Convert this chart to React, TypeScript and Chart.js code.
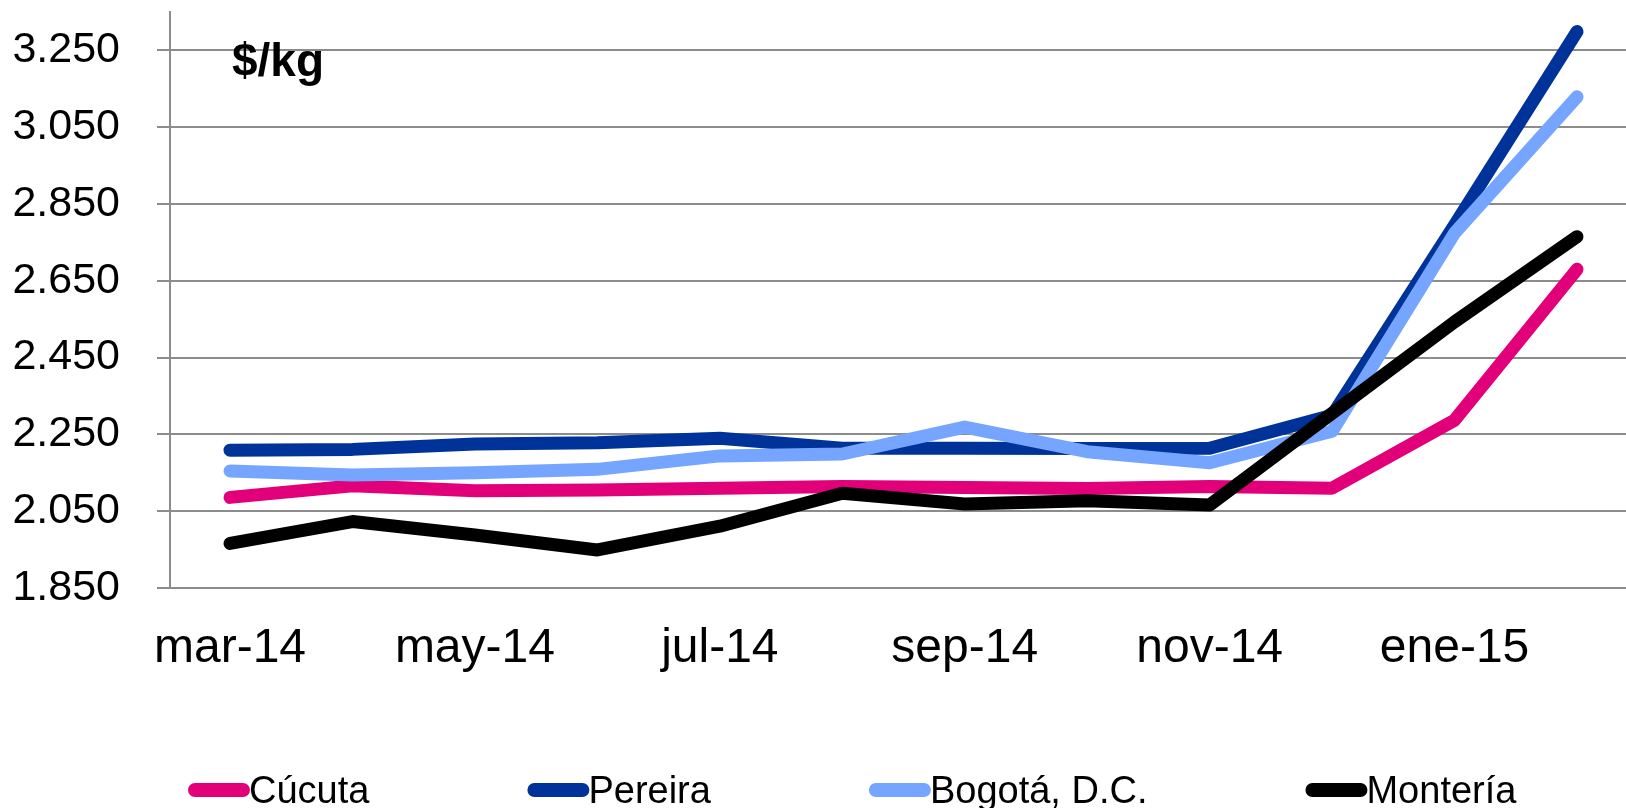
import { useEffect, useRef } from "react";
import { Chart, registerables } from "chart.js";

Chart.register(...registerables);

// ---- data ----
const months = [
  "mar-14", "abr-14", "may-14", "jun-14", "jul-14", "ago-14",
  "sep-14", "oct-14", "nov-14", "dic-14", "ene-15", "feb-15",
];
const xTickIndexes = [0, 2, 4, 6, 8, 10];
const yTickValues = [1850, 2050, 2250, 2450, 2650, 2850, 3050, 3250];
const yMin = 1850;
const yMax = 3350;

const cucuta = [2086, 2116, 2103, 2105, 2110, 2114, 2112, 2109, 2114, 2110, 2287, 2680];
const pereira = [2209, 2211, 2225, 2228, 2240, 2214, 2214, 2213, 2214, 2300, 2795, 3299];
const bogota = [2155, 2144, 2150, 2159, 2194, 2199, 2269, 2205, 2176, 2258, 2774, 3129];
const monteria = [1966, 2023, 1988, 1949, 2011, 2097, 2069, 2077, 2066, 2305, 2543, 2765];

const seriesNames = ["Cúcuta", "Pereira", "Bogotá, D.C.", "Montería"];
const seriesValues = [cucuta, pereira, bogota, monteria];
const seriesColors = ["#E2007A", "#003399", "#75A5FF", "#000000"];
const seriesOrder = [3, 2, 1, 0];
const unitLabel = "$/kg";

const FONT = '"Liberation Sans", Arial, Helvetica, sans-serif';
const GRID = "#8c8c8c";

function fmt(v: number): string {
  const th = Math.floor(v / 1000);
  const rest = String(Math.round(v % 1000)).padStart(3, "0");
  return th > 0 ? `${th}.${rest}` : String(v);
}

const unitPlugin = {
  id: "unitLabel",
  beforeDatasetsDraw(chart: any) {
    const { ctx, chartArea } = chart;
    ctx.save();
    ctx.font = `bold 46px ${FONT}`;
    ctx.fillStyle = "#000";
    ctx.textBaseline = "alphabetic";
    ctx.textAlign = "left";
    ctx.fillText(unitLabel, chartArea.left + 62, chartArea.top + 64);
    ctx.restore();
  },
};

const legendPlugin = {
  id: "bottomLegend",
  afterDraw(chart: any) {
    const ctx = chart.ctx;
    ctx.save();
    ctx.font = `38px ${FONT}`;
    ctx.textAlign = "left";
    ctx.textBaseline = "alphabetic";
    let x = 188;
    const cy = chart.height - 18;
    const baseline = chart.height - 5;
    chart.data.datasets.forEach((ds: any) => {
      ctx.strokeStyle = ds.borderColor;
      ctx.lineWidth = 14;
      ctx.lineCap = "round";
      ctx.beginPath();
      ctx.moveTo(x + 7, cy);
      ctx.lineTo(x + 55, cy);
      ctx.stroke();
      ctx.fillStyle = "#000";
      ctx.fillText(ds.label, x + 61, baseline);
      x += 61 + ctx.measureText(ds.label).width + 158;
    });
    ctx.restore();
  },
};

export default function App() {
  const ref = useRef<HTMLCanvasElement | null>(null);

  useEffect(() => {
    document.body.style.margin = "0";
    document.body.style.overflow = "hidden";
    const canvas = ref.current;
    if (!canvas) return;
    Chart.defaults.font.family = FONT;

    const chart = new Chart(canvas, {
      type: "line",
      data: {
        datasets: seriesNames.map((name, si) => ({
          label: name,
          data: months.map((_, i) => ({ x: i, y: seriesValues[si][i] })),
          borderColor: seriesColors[si],
          backgroundColor: seriesColors[si],
          borderWidth: 13,
          borderCapStyle: "round",
          borderJoinStyle: "round",
          pointRadius: 0,
          pointHoverRadius: 0,
          tension: 0,
          fill: false,
          order: seriesOrder[si],
        })),
      },
      options: {
        responsive: false,
        animation: false,
        events: [],
        layout: { padding: { top: 12, left: 0, right: 0, bottom: 0 } },
        plugins: {
          legend: { display: false },
          tooltip: { enabled: false },
          title: { display: false },
        },
        scales: {
          x: {
            type: "linear",
            min: -0.49,
            max: 11.4,
            grid: { display: false, drawTicks: false },
            border: { display: true, color: GRID, width: 2 },
            ticks: {
              autoSkip: false,
              maxRotation: 0,
              minRotation: 0,
              padding: 32,
              color: "#000",
              font: { size: 48, family: FONT },
              callback: (v: any) => months[v as number] ?? "",
            },
            afterBuildTicks: (s: any) => {
              s.ticks = xTickIndexes.map((v) => ({ value: v }));
            },
            afterFit: (s: any) => {
              s.height = 220;
              s.paddingLeft = 0;
              s.paddingRight = 0;
            },
          },
          y: {
            type: "linear",
            min: yMin,
            max: yMax,
            grid: {
              display: true,
              color: GRID,
              lineWidth: 2,
              drawTicks: true,
              tickLength: 13,
            },
            border: { display: true, color: GRID, width: 2 },
            ticks: {
              padding: 37,
              color: "#000",
              font: { size: 43, family: FONT },
              callback: (v: any) => fmt(v as number),
            },
            afterBuildTicks: (s: any) => {
              s.ticks = yTickValues.map((v) => ({ value: v }));
            },
            afterFit: (s: any) => {
              s.width = 170;
              s.paddingTop = 0;
              s.paddingBottom = 0;
            },
          },
        },
      } as any,
      plugins: [unitPlugin, legendPlugin],
    });

    return () => chart.destroy();
  }, []);

  return (
    <div style={{ width: 1626, height: 808 }}>
      <canvas ref={ref} width={1626} height={808} style={{ display: "block" }} />
    </div>
  );
}
